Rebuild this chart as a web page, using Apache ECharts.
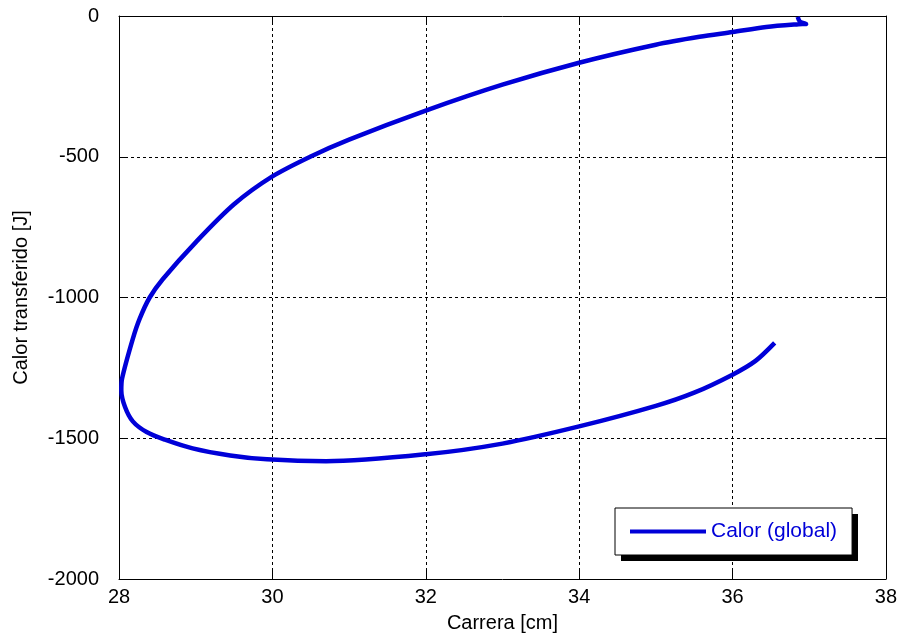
<!DOCTYPE html>
<html><head><meta charset="utf-8">
<script src="https://cdn.jsdelivr.net/npm/echarts@6/dist/echarts.min.js"></script>
<style>html,body{margin:0;padding:0;background:#fff}#c{width:900px;height:638px}</style>
</head><body><div id="c"></div>
<script>
const carrera = [36.85, 36.88, 36.96, 36.86, 36.44, 36.0, 35.57, 35.0, 34.0, 33.0, 32.0, 31.0, 30.5, 30.0, 29.5, 29.0, 28.57, 28.4, 28.27, 28.18, 28.04, 28.03, 28.08, 28.18, 28.36, 28.6, 28.96, 29.45, 29.93, 30.7, 32.0, 33.0, 34.0, 35.0, 35.5, 36.0, 36.3, 36.55];
const calor = [-3, -20, -28, -29, -39, -57, -74, -102, -166, -244, -336, -439, -499, -570, -669, -804, -935, -1000, -1075, -1147, -1288, -1330, -1390, -1440, -1478, -1505, -1536, -1561, -1575, -1582, -1557, -1519, -1458, -1385, -1338, -1274, -1225, -1161];
const seriesName = 'Calor (global)';
const xName = 'Carrera [cm]';
const yName = 'Calor transferido [J]';

const font = 'Liberation Sans, Arial, sans-serif';
const chart = echarts.init(document.getElementById('c'), null, {renderer: 'canvas'});
const axisCommon = {
  axisLine: {show: true, onZero: false, lineStyle: {color: '#000', width: 1}},
  axisTick: {show: true, inside: true, length: 8, lineStyle: {color: '#000'}},
  splitLine: {show: false}
};
chart.setOption({
  animation: false,
  grid: {left: 119, right: 14, top: 16, bottom: 57, containLabel: false},
  graphic: [{
    type: 'rect', z: 50, silent: true,
    shape: {x: 621, y: 514, width: 237, height: 47},
    style: {fill: '#000'}
  }],
  legend: {
    data: [seriesName], left: 615, top: 508, orient: 'horizontal', z: 60,
    backgroundColor: '#fff', borderColor: '#000', borderWidth: 1,
    padding: [13, 15, 13, 15], itemWidth: 76, itemHeight: 4, itemGap: 10,
    icon: 'rect',
    textStyle: {color: '#0000d8', fontFamily: font, fontSize: 21}
  },
  xAxis: [
    Object.assign({}, axisCommon, {
      type: 'value', min: 28, max: 38, interval: 2, position: 'bottom',
      name: xName, nameLocation: 'middle', nameGap: 34,
      nameTextStyle: {color: '#000', fontFamily: font, fontSize: 20},
      axisLabel: {color: '#000', fontFamily: font, fontSize: 20, margin: 8},
      splitLine: {show: true, lineStyle: {color: '#000', type: [3, 3], width: 1}}
    }),
    Object.assign({}, axisCommon, {
      type: 'value', min: 28, max: 38, interval: 2, position: 'top',
      axisLabel: {show: false}
    })
  ],
  yAxis: [
    Object.assign({}, axisCommon, {
      type: 'value', min: -2000, max: 0, interval: 500, position: 'left',
      name: yName, nameLocation: 'middle', nameGap: 88, nameRotate: 90,
      nameTextStyle: {color: '#000', fontFamily: font, fontSize: 20},
      axisLabel: {color: '#000', fontFamily: font, fontSize: 20, margin: 20, formatter: v => String(v)},
      splitLine: {show: true, lineStyle: {color: '#000', type: [3, 3], width: 1}}
    }),
    Object.assign({}, axisCommon, {
      type: 'value', min: -2000, max: 0, interval: 500, position: 'right',
      axisLabel: {show: false}
    })
  ],
  series: [{
    name: seriesName, type: 'line', xAxisIndex: 0, yAxisIndex: 0,
    data: carrera.map((x, i) => [x, calor[i]]),
    showSymbol: false, smooth: 0.3,
    lineStyle: {color: '#0000d8', width: 4.5},
    itemStyle: {color: '#0000d8'}
  }]
});
</script></body></html>
